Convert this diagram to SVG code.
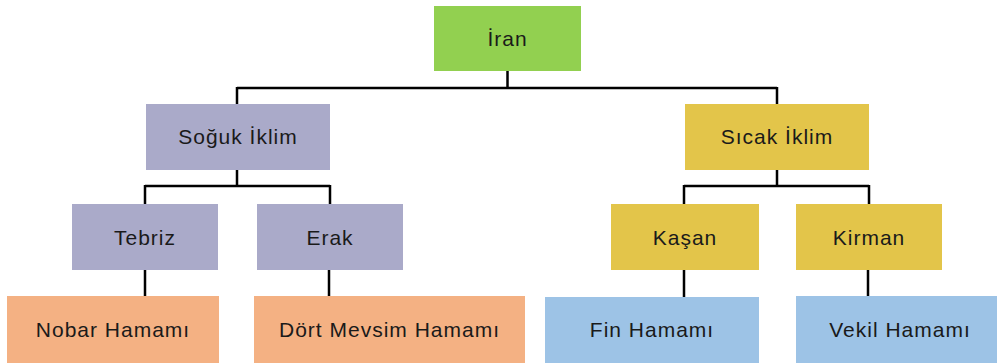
<svg xmlns="http://www.w3.org/2000/svg" width="997" height="363" viewBox="0 0 997 363">
<style>
.t{font-family:"Liberation Sans",Arial,sans-serif;font-size:21px;letter-spacing:1px;fill:#1a1a1a;text-anchor:middle}
.c{fill:none;stroke:#000;stroke-width:2.5}
.g{fill:#92d050}.p{fill:#aaaac9}.y{fill:#e3c54a}.o{fill:#f4b183}.b{fill:#9dc3e6}
</style>
<rect width="997" height="363" fill="#fff"/>
<g id="connectors">
<path class="c" d="M507.5 71V88M237 88H777M237 87V104M777 87V104"/>
<path class="c" d="M237 170V186M145 186H330M145 185V204M330 185V204"/>
<path class="c" d="M777 170V186M684 186H869M684 185V204M869 185V204"/>
<path class="c" d="M145 270V296M329 270V296M684 270V297M868 270V296"/>
</g>
<g id="iran"><rect class="g" x="434" y="6" width="147" height="65"/><text class="t" x="507.5" y="46">İran</text></g>
<g id="soguk"><rect class="p" x="146" y="104" width="184" height="66"/><text class="t" x="238" y="144">Soğuk İklim</text></g>
<g id="sicak"><rect class="y" x="685" y="104" width="184" height="66"/><text class="t" x="777" y="144">Sıcak İklim</text></g>
<g id="tebriz"><rect class="p" x="72" y="204" width="146" height="66"/><text class="t" x="145" y="244.5">Tebriz</text></g>
<g id="erak"><rect class="p" x="257" y="204" width="146" height="66"/><text class="t" x="330" y="244.5">Erak</text></g>
<g id="kasan"><rect class="y" x="611" y="204" width="148" height="66"/><text class="t" x="685" y="244.5">Kaşan</text></g>
<g id="kirman"><rect class="y" x="796" y="204" width="146" height="66"/><text class="t" x="869" y="244.5">Kirman</text></g>
<g id="nobar"><rect class="o" x="7" y="296" width="212" height="67"/><text class="t" x="113" y="337">Nobar Hamamı</text></g>
<g id="dort"><rect class="o" x="254" y="296" width="271" height="67"/><text class="t" x="389.5" y="337">Dört Mevsim Hamamı</text></g>
<g id="fin"><rect class="b" x="545" y="297" width="214" height="66"/><text class="t" x="652" y="337">Fin Hamamı</text></g>
<g id="vekil"><rect class="b" x="796" y="296" width="201" height="67"/><text class="t" x="900" y="337">Vekil Hamamı</text></g>
</svg>
